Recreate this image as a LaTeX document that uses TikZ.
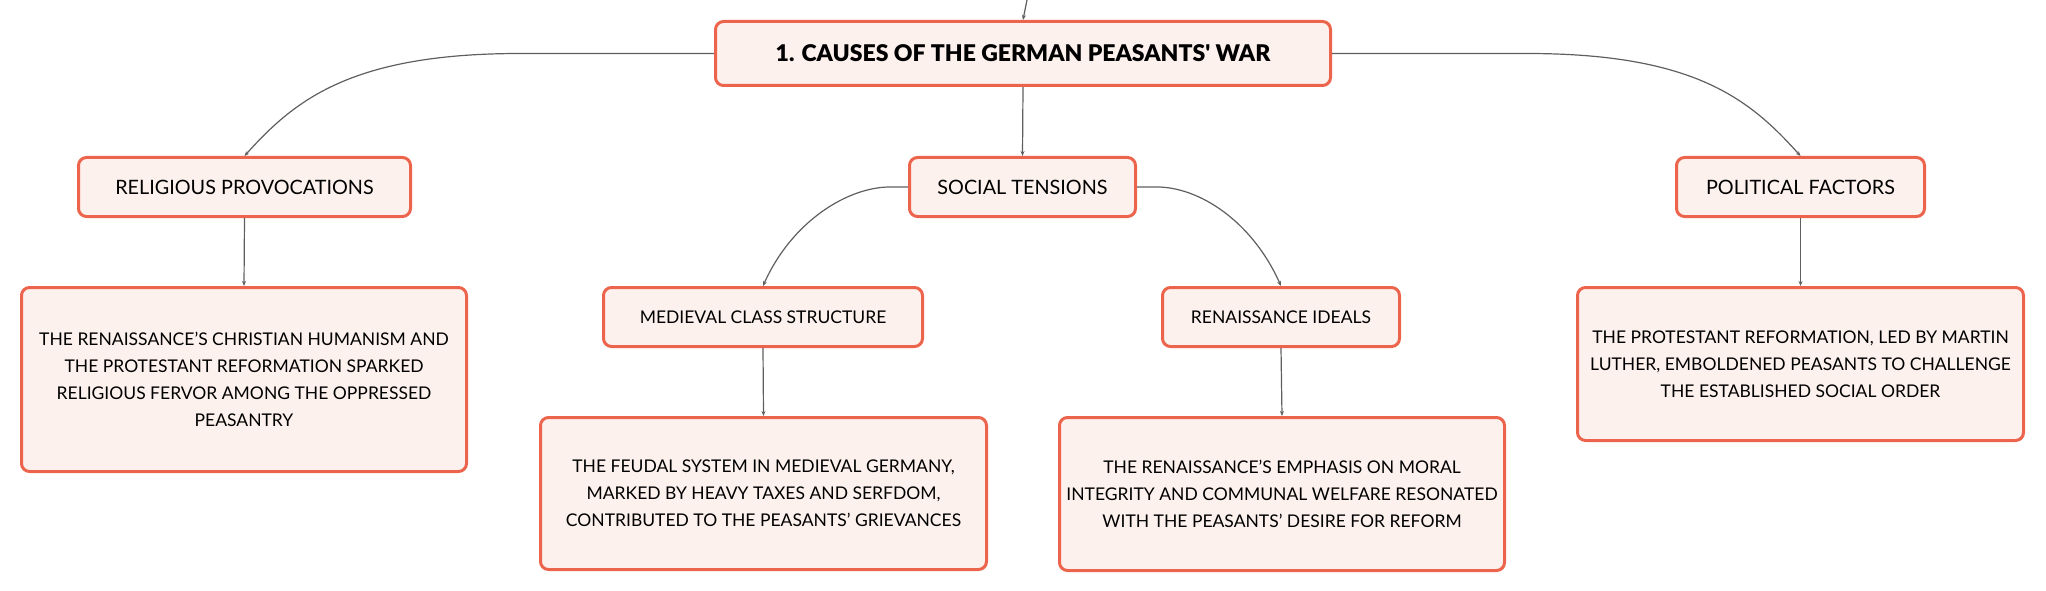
\documentclass[tikz,border=0pt]{standalone}
\usepackage{fontspec}
\setmainfont{Lato}
\newfontfamily\titlefont{Lato Black}
\usepackage{xcolor}
\usetikzlibrary{calc}
\usetikzlibrary{arrows.meta}
\usetikzlibrary{positioning}
\definecolor{BoxRed}{RGB}{236,100,76}
\definecolor{BoxFill}{RGB}{253,241,237}
\definecolor{LinkGray}{RGB}{95,95,95}
\tikzset{
	topicBox/.style={draw=BoxRed, fill=BoxFill, line width=3pt, rounded corners=8pt,
		align=center, inner sep=0pt, font=\fontsize{19.8}{27}\selectfont},
	textBox/.style={topicBox, font=\fontsize{17.5}{27}\selectfont},
	titleBox/.style={topicBox, font=\fontsize{23}{30}\titlefont}
}
\tikzset{link/.style={draw=LinkGray, line width=1.2pt, -{Stealth[length=5pt,width=4pt]}}}

\begin{document}
\begin{tikzpicture}[x=1pt,y=1pt]
	\useasboundingbox (0,0) rectangle (2046,-591);
	
	\node [titleBox, minimum width=615, minimum height=64] (causes) at (1023,-53.5) {1. CAUSES OF THE GERMAN PEASANTS' WAR};
	
	\node [topicBox, minimum width=332, minimum height=59] (religious) at (244.5,-187) {RELIGIOUS PROVOCATIONS};
	\node [topicBox, minimum width=226, minimum height=59] (social) at (1022.5,-187) {SOCIAL TENSIONS};
	\node [topicBox, minimum width=248, minimum height=59] (political) at (1800.5,-187) {POLITICAL FACTORS};
	
	\node [textBox, minimum width=319, minimum height=59] (medieval) at (763,-317) {MEDIEVAL CLASS STRUCTURE};
	\node [textBox, minimum width=237, minimum height=59] (ideals) at (1281,-317) {RENAISSANCE IDEALS};
	
	\node [textBox, minimum width=445, minimum height=184] (religiousText) at (244,-379.5) {THE RENAISSANCE'S CHRISTIAN HUMANISM AND\\THE PROTESTANT REFORMATION SPARKED\\RELIGIOUS FERVOR AMONG THE OPPRESSED\\PEASANTRY};
	\node [textBox, minimum width=446, minimum height=152] (medievalText) at (763.5,-493.5) {THE FEUDAL SYSTEM IN MEDIEVAL GERMANY,\\MARKED BY HEAVY TAXES AND SERFDOM,\\CONTRIBUTED TO THE PEASANTS' GRIEVANCES};
	\node [textBox, minimum width=445, minimum height=153] (idealsText) at (1282,-494) {THE RENAISSANCE'S EMPHASIS ON MORAL\\INTEGRITY AND COMMUNAL WELFARE RESONATED\\WITH THE PEASANTS' DESIRE FOR REFORM};
	\node [textBox, minimum width=446, minimum height=153] (politicalText) at (1800.5,-364) {THE PROTESTANT REFORMATION, LED BY MARTIN\\LUTHER, EMBOLDENED PEASANTS TO CHALLENGE\\THE ESTABLISHED SOCIAL ORDER};
	
	\coordinate (parent) at (1027,0); %off the page
	\draw [link] (parent) -- (causes.north);
	
	\draw [link] (causes.west) -- ++(-194,0) .. controls +(-167,0) and +(51,57) .. (religious.north);
	\draw [link] (causes.south) -- (social.north);
	\draw [link] (causes.east) -- ++(195,0) .. controls +(167,0) and +(-51,57) .. (political.north);
	
	\draw [link] (social.west) -- ++(-18,0) .. controls +(-42,0) and +(29,65) .. (medieval.north);
	\draw [link] (social.east) -- ++(20,0) .. controls +(42,0) and +(-29,65) .. (ideals.north);
	
	\draw [link] (religious.south) -- (religiousText.north);
	\draw [link] (medieval.south) -- (medievalText.north);
	\draw [link] (ideals.south) -- (idealsText.north);
	\draw [link] (political.south) -- (politicalText.north);
\end{tikzpicture}
\end{document}
